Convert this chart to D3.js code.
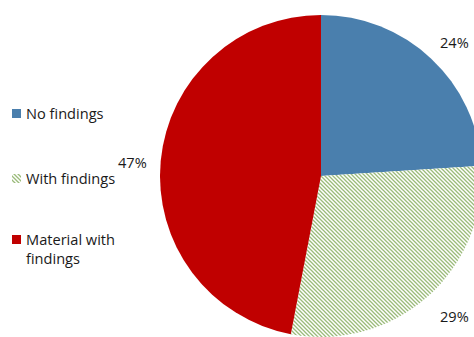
<!DOCTYPE html>
<html><head><meta charset="utf-8">
<script src="https://cdn.jsdelivr.net/npm/d3@7"></script>
<style>body{margin:0;background:#fff}svg{display:block}text{font-family:"Open Sans",sans-serif;fill:#1a1a1a}</style>
</head><body>
<svg id="c" width="474" height="337"></svg>
<script>
const categories = ["No findings", "With findings", "Material with findings"];
const values = [24, 29, 47];
const labels = ["24%", "29%", "47%"];
const legendLines = [["No findings"], ["With findings"], ["Material with", "findings"]];

const svg = d3.select("#c");
const defs = svg.append("defs");
const pat = defs.append("pattern").attr("id","hatch").attr("patternUnits","userSpaceOnUse")
  .attr("width",4).attr("height",4);
pat.append("rect").attr("width",4).attr("height",4).attr("fill","#fff");
pat.append("path").attr("d","M-1,-1 L5,5 M-1,3 L1,5 M3,-1 L5,1").attr("stroke","#9bbb7a").attr("stroke-width",1.3);

const fills = ["#4a7fad", "url(#hatch)", "#c00000"];
const cx = 321, cy = 176, r = 161;
const pie = d3.pie().sort(null).value(d => d)(values);
const arc = d3.arc().innerRadius(0).outerRadius(r);
const g = svg.append("g").attr("transform", `translate(${cx},${cy})`);
g.selectAll("path").data(pie).join("path").attr("d", arc).attr("fill", (d,i) => fills[i]);

const labelPos = [[440,48],[440,322],[118,168]];
svg.selectAll(".lbl").data(labels).join("text").attr("class","lbl")
  .attr("x",(d,i)=>labelPos[i][0]).attr("y",(d,i)=>labelPos[i][1])
  .attr("font-size",14.6).text(d=>d);

const legY = [119, 184, 245];
const lg = svg.append("g");
categories.forEach((c,i)=>{
  lg.append("rect").attr("x",12).attr("y",legY[i]-10).attr("width",9).attr("height",9).attr("fill",fills[i]);
  const t = lg.append("text").attr("x",26).attr("y",legY[i]).attr("font-size",14.6);
  legendLines[i].forEach((l,j)=>t.append("tspan").attr("x",26).attr("dy", j?19:0).text(l));
});
</script>
</body></html>
